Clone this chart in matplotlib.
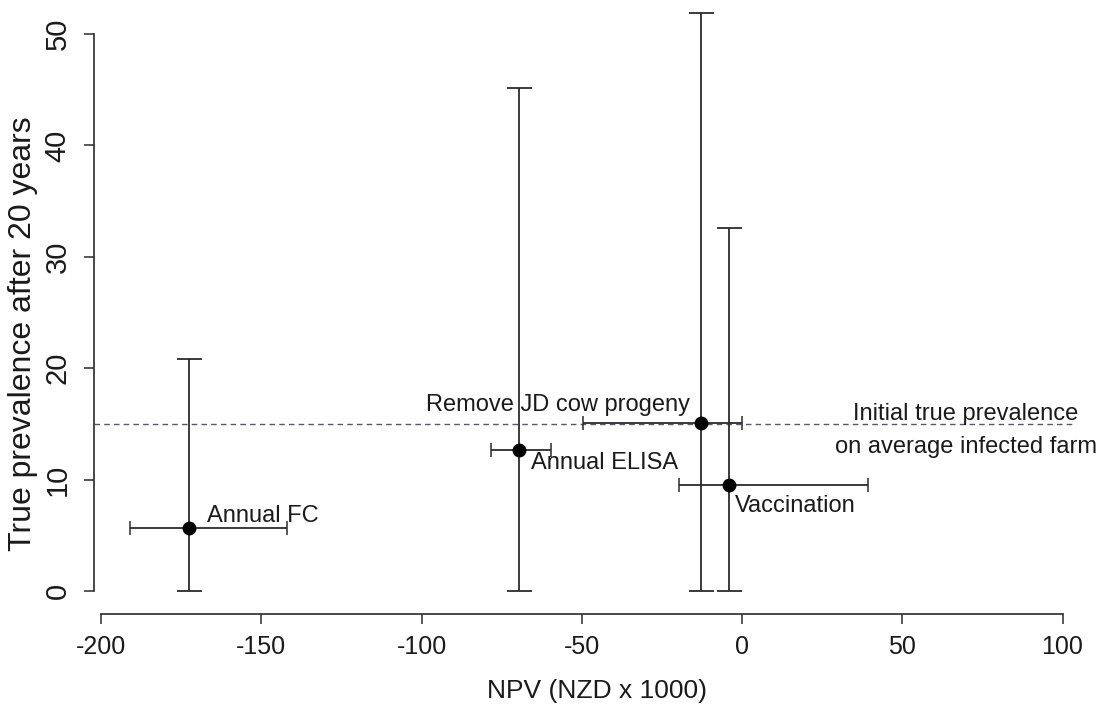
import matplotlib
matplotlib.use("Agg")
import matplotlib.pyplot as plt

plt.rcParams['font.family'] = ['Liberation Sans', 'DejaVu Sans']

# strategies: NPV (x) and true prevalence after 20 years (y), with ranges
names = ["Annual FC", "Annual ELISA", "Remove JD cow progeny", "Vaccination"]
npv = [-172.5, -69.5, -12.9, -4.2]
prev = [5.7, 12.7, 15.1, 9.5]
npv_lo = [-191.0, -78.3, -49.6, -19.7]
npv_hi = [-142.0, -59.6, 0.0, 39.3]
prev_lo = [0.0, 0.0, 0.0, 0.0]
prev_hi = [20.8, 45.2, 51.9, 32.6]

initial_prev = 15
xticks = [-200, -150, -100, -50, 0, 50, 100]
yticks = [0, 10, 20, 30, 40, 50]

# label positions (left edge, centre) for each strategy
label_x = [-166.9, -65.8, -98.6, -2.2]
label_y = [6.7, 11.5, 16.7, 7.6]

col = "#2b2b2b"

fig = plt.figure(figsize=(11.13, 7.07), dpi=100)
ax = fig.add_axes([0.0845, 0.1315, 0.8814, 0.8645])

# horizontal reference line
ax.axhline(initial_prev, color="#555a66", lw=1, ls=(0, (4, 3)), zorder=1)

# vertical ranges
yerr = [[p - lo for p, lo in zip(prev, prev_lo)], [hi - p for p, hi in zip(prev, prev_hi)]]
ax.errorbar(npv, prev, yerr=yerr, fmt="none", ecolor=col, elinewidth=1.3,
            capsize=9, capthick=1.3, zorder=2)
# horizontal ranges
xerr = [[x - lo for x, lo in zip(npv, npv_lo)], [hi - x for x, hi in zip(npv, npv_hi)]]
ax.errorbar(npv, prev, xerr=xerr, fmt="none", ecolor=col, elinewidth=1.3,
            capsize=5, capthick=1.1, zorder=2)
ax.plot(npv, prev, "o", color="black", markersize=9, zorder=3)

for nm, tx, ty in zip(names, label_x, label_y):
    ax.text(tx, ty, nm, ha="left", va="center", fontsize=17, color="#1a1a1a")

ax.text(69.9, 15.9, "Initial true prevalence", ha="center", va="center",
        fontsize=17, color="#1a1a1a")
ax.text(69.9, 12.9, "on average infected farm", ha="center", va="center",
        fontsize=17, color="#1a1a1a")

ax.set_xlim(-202.2, 103.9)
ax.set_ylim(-2.06, 52.8)

for s in ["top", "right"]:
    ax.spines[s].set_visible(False)
ax.spines["left"].set_bounds(0, 50)
ax.spines["bottom"].set_bounds(-200, 100)
for s in ["left", "bottom"]:
    ax.spines[s].set_color(col)
    ax.spines[s].set_linewidth(1.2)

ax.set_xticks(xticks)
ax.set_xticklabels([str(v) for v in xticks])
ax.set_yticks(yticks)
ax.set_yticklabels([str(v) for v in yticks])
ax.tick_params(axis="both", direction="out", length=7, width=1.1, color=col,
               labelcolor="#1a1a1a")
ax.tick_params(axis="x", labelsize=18, pad=8)
ax.tick_params(axis="y", labelsize=21, labelrotation=90, pad=9)
for lab in ax.get_yticklabels():
    lab.set_va("center")

ax.set_xlabel("NPV (NZD x 1000)", fontsize=19, color="#1a1a1a")
ax.xaxis.set_label_coords(0.5127, -0.107)
fig.text(23 / 1113, 1 - 334 / 707, "True prevalence after 20 years", rotation=90,
         ha="center", va="center", fontsize=23, color="#1a1a1a")

fig.savefig("out.png", dpi=100, facecolor="white")
